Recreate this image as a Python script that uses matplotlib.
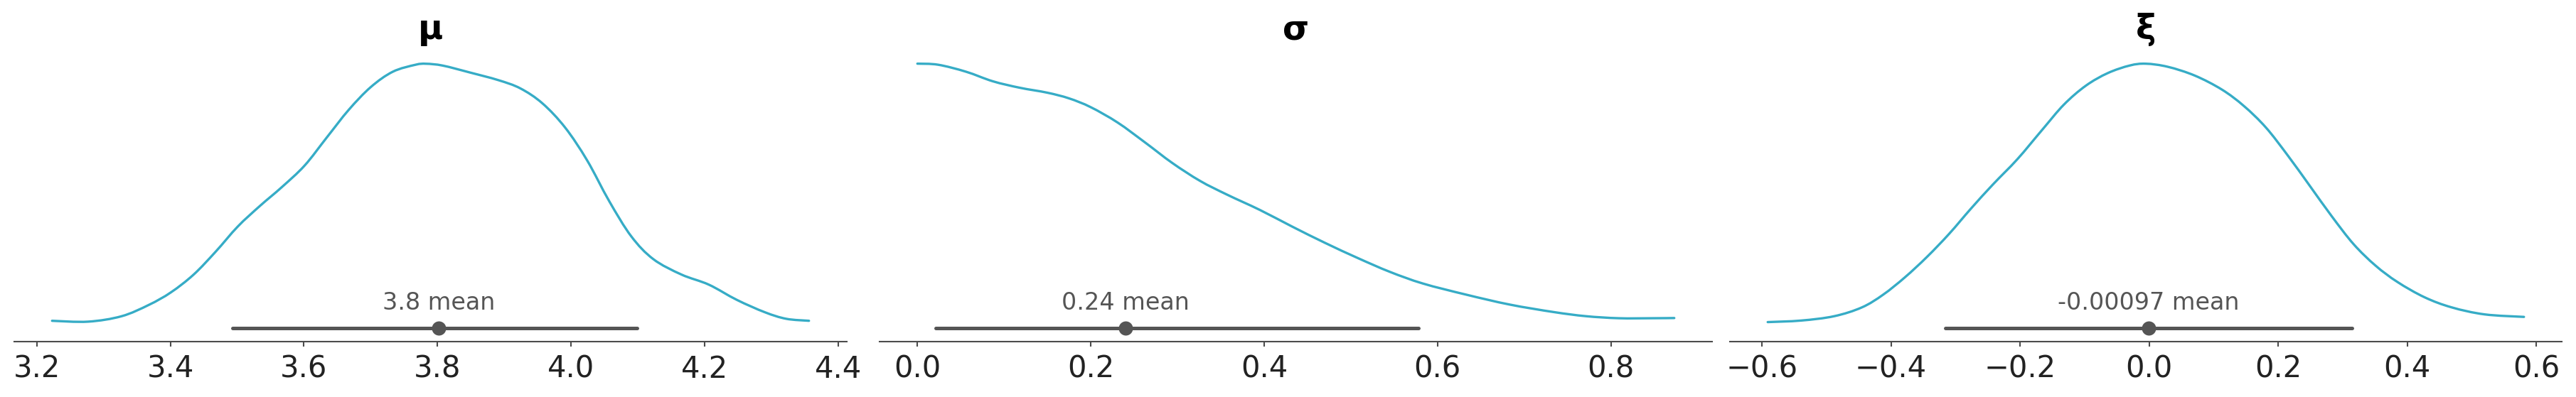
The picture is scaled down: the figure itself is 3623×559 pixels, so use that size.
import matplotlib
matplotlib.use("Agg")
import matplotlib.pyplot as plt
from matplotlib.path import Path
from matplotlib.patches import PathPatch
import numpy as np

# ---------------- data ----------------
titles = ["μ", "σ", "ξ"]

mu_x = [3.223, 3.277, 3.327, 3.368, 3.401, 3.435, 3.468, 3.501, 3.534, 3.567, 3.601,
        3.634, 3.667, 3.700, 3.733, 3.767, 3.783, 3.808, 3.849, 3.891, 3.924, 3.957,
        3.991, 4.024, 4.057, 4.090, 4.123, 4.165, 4.206, 4.248, 4.290, 4.322, 4.356]
mu_d = [0.015, 0.009, 0.047, 0.127, 0.215, 0.340, 0.501, 0.677, 0.821, 0.954, 1.105,
        1.301, 1.496, 1.656, 1.764, 1.813, 1.820, 1.807, 1.758, 1.705, 1.647, 1.542,
        1.372, 1.141, 0.855, 0.608, 0.448, 0.340, 0.269, 0.162, 0.075, 0.029, 0.015]

sigma_x = [0.000, 0.024, 0.056, 0.087, 0.118, 0.150, 0.175, 0.200, 0.231, 0.263, 0.294,
           0.326, 0.357, 0.395, 0.432, 0.470, 0.508, 0.545, 0.583, 0.633, 0.683, 0.734,
           0.771, 0.809, 0.847, 0.873]
sigma_d = [2.650, 2.639, 2.568, 2.470, 2.404, 2.353, 2.295, 2.205, 2.048, 1.842, 1.635,
           1.452, 1.312, 1.155, 0.986, 0.819, 0.663, 0.522, 0.403, 0.289, 0.188, 0.111,
           0.069, 0.048, 0.048, 0.050]

xi_x = [-0.591, -0.539, -0.488, -0.445, -0.412, -0.378, -0.344, -0.310, -0.276, -0.242,
        -0.204, -0.166, -0.132, -0.098, -0.064, -0.030, -0.005, 0.029, 0.071, 0.113,
        0.147, 0.181, 0.215, 0.249, 0.283, 0.317, 0.351, 0.385, 0.427, 0.469, 0.520, 0.581]
xi_d = [0.006, 0.017, 0.048, 0.111, 0.202, 0.327, 0.472, 0.635, 0.816, 0.988, 1.169,
        1.376, 1.558, 1.693, 1.783, 1.837, 1.850, 1.828, 1.765, 1.665, 1.548, 1.395,
        1.195, 0.979, 0.762, 0.562, 0.409, 0.292, 0.183, 0.111, 0.061, 0.043]

means = [3.802, 0.240, -0.00097]
mean_labels = ["3.8 mean", "0.24 mean", "-0.00097 mean"]
hdi_low = [3.493, 0.0215, -0.316]
hdi_high = [4.099, 0.578, 0.315]

ticks = [[3.2, 3.4, 3.6, 3.8, 4.0, 4.2, 4.4],
         [0.0, 0.2, 0.4, 0.6, 0.8],
         [-0.6, -0.4, -0.2, 0.0, 0.2, 0.4, 0.6]]

xs = [mu_x, sigma_x, xi_x]
ds = [mu_d, sigma_d, xi_d]

# ---------------- style ----------------
W, H = 3623, 559
DPI = 300
curve_color = "#36acc6"
gray = "#555555"
spine_color = "#4c4c4c"


def smooth_path(x, y):
    """Catmull-Rom curve through the read points, drawn as cubic Bezier segments."""
    x = np.asarray(x, float)
    y = np.asarray(y, float)
    n = len(x)
    verts = [(x[0], y[0])]
    codes = [Path.MOVETO]
    for k in range(n - 1):
        p0 = np.array([x[max(k - 1, 0)], y[max(k - 1, 0)]])
        p1 = np.array([x[k], y[k]])
        p2 = np.array([x[k + 1], y[k + 1]])
        p3 = np.array([x[min(k + 2, n - 1)], y[min(k + 2, n - 1)]])
        c1 = p1 + (p2 - p0) / 6.0
        c2 = p2 - (p3 - p1) / 6.0
        verts += [tuple(c1), tuple(c2), tuple(p2)]
        codes += [Path.CURVE4] * 3
    return Path(verts, codes)


fig = plt.figure(figsize=(W / DPI, H / DPI), dpi=DPI)

boxes = [(20, 1191), (1237, 2408), (2433, 3603)]
bottom_px, top_px = 481, 71

for i in range(3):
    l, r = boxes[i]
    ax = fig.add_axes([l / W, (H - bottom_px) / H, (r - l) / W, (bottom_px - top_px) / H])
    x = np.array(xs[i])
    d = np.array(ds[i])
    peak = d.max()
    # invisible line to let autoscaling see the curve's extent
    ax.plot(x, d, alpha=0)
    ax.add_patch(PathPatch(smooth_path(x, d), facecolor="none", edgecolor=curve_color,
                           lw=0.8, capstyle="round"))
    yh = -0.021 * peak
    ax.plot([hdi_low[i], hdi_high[i]], [yh, yh], color=gray, lw=1.2,
            solid_capstyle="round")
    ax.plot([means[i]], [yh], marker="o", ms=4.8, color=gray, mec=gray, mew=0)
    ax.text(means[i], 0.052 * peak, mean_labels[i], ha="center", va="baseline",
            fontsize=8, color=gray)
    ax.margins(x=0.05, y=0.05)
    ax.autoscale_view()
    ax.set_title(titles[i], fontsize=11.5, fontweight="bold", pad=3.8, color="black")
    ax.set_yticks([])
    for s in ["left", "top", "right"]:
        ax.spines[s].set_visible(False)
    ax.spines["bottom"].set_color(spine_color)
    ax.spines["bottom"].set_linewidth(0.5)
    ax.set_xticks(ticks[i])
    ax.set_xticklabels([f"{t:.1f}".replace("-", "\u2212") for t in ticks[i]])
    ax.tick_params(axis="x", direction="out", length=1.7, width=0.5,
                   color=spine_color, labelsize=10, labelcolor="#222222", pad=2.5)
    ax.set_facecolor("white")

fig.savefig("out.png", dpi=DPI, facecolor="white")
